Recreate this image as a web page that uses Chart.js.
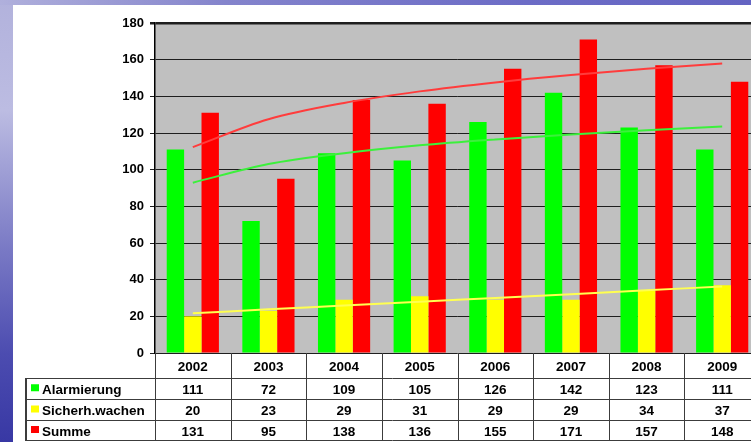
<!DOCTYPE html>
<html>
<head>
<meta charset="utf-8">
<script src="https://cdn.jsdelivr.net/npm/chart.js@4.4.1/dist/chart.umd.min.js"></script>
<style>
  html, body { margin: 0; padding: 0; width: 751px; height: 442px; overflow: hidden; }
  body { background: linear-gradient(180deg, #b2b2dc 0%, #bcbce2 25%, #7c7cc6 55%, #4c4cb0 80%, #3838a4 100%); position: relative; }
  #topband { position: absolute; left: 0; top: 0; width: 751px; height: 5px;
    background: linear-gradient(90deg, #b0b0dc 0%, #8484cc 30%, #6c6cc6 70%, #6464c2 100%); }
  #wrap { position: absolute; left: 13px; top: 5px; width: 747px; height: 437px; background: #fff; }
</style>
</head>
<body>
<div id="topband"></div>
<div id="wrap"><canvas id="c" width="747" height="437"></canvas></div>
<script>
/* Einsätze 2002–2009: Balken + Trendlinien + Datentabelle */
const years = ["2002", "2003", "2004", "2005", "2006", "2007", "2008", "2009"];
const alarmierung = [111, 72, 109, 105, 126, 142, 123, 111];
const sicherhWachen = [20, 23, 29, 31, 29, 29, 34, 37];
const summe = [131, 95, 138, 136, 155, 171, 157, 148];
const trendAlarm = [92.9, 103.1, 109.0, 113.3, 116.5, 119.2, 121.5, 123.5];
const trendSicher = [21.7, 23.8, 25.9, 28.0, 30.0, 32.1, 34.2, 36.3];
const trendSumme = [112.3, 127.5, 136.4, 142.7, 147.6, 151.6, 155.0, 157.9];
const seriesNames = ["Alarmierung", "Sicherh.wachen", "Summe"];
const yMin = 0, yMax = 180, yStep = 20;

const GREEN = "#00ff00", YELLOW = "#ffff00", RED = "#ff0000";
const FONT = "'Liberation Sans', Arial, sans-serif";

Chart.defaults.font.family = FONT;
Chart.defaults.font.weight = "bold";
Chart.defaults.font.size = 13;
Chart.defaults.color = "#000";

const plotBg = {
  id: "plotBg",
  beforeDraw(c) {
    const { ctx, chartArea: a } = c;
    ctx.save();
    ctx.fillStyle = "#c0c0c0";
    ctx.fillRect(a.left, a.top, a.right - a.left, a.bottom - a.top);
    ctx.restore();
  },
};

const dataTable = {
  id: "dataTable",
  afterDraw(c) {
    const { ctx, chartArea: a, scales: { x } } = c;
    const w = (a.right - a.left) / years.length;
    const y0 = a.bottom, y1 = y0 + 24.5;
    const rowY = [y1, y1 + 21.5, y1 + 42.5, y1 + 62.5];
    const left = 12;
    const line = (x1, ya, x2, yb) => { ctx.beginPath(); ctx.moveTo(x1, ya); ctx.lineTo(x2, yb); ctx.stroke(); };
    ctx.save();
    ctx.strokeStyle = "#3c3c3c";
    ctx.lineWidth = 1;
    rowY.forEach((yy) => line(left, Math.round(yy) + 0.5, a.right, Math.round(yy) + 0.5));
    for (let i = 0; i <= years.length; i++) {
      const xx = Math.round(a.left + i * w) + 0.5;
      line(xx, y0, xx, Math.round(rowY[3]) + 0.5);
    }
    ctx.lineWidth = 2;
    line(left + 1, Math.round(y1), left + 1, Math.round(rowY[3]) + 1);

    ctx.fillStyle = "#000";
    ctx.font = "bold 13.5px " + FONT;
    ctx.textAlign = "center";
    ctx.textBaseline = "middle";
    years.forEach((yr, i) => ctx.fillText(yr, x.getPixelForValue(i), (y0 + y1) / 2 + 2));

    const rows = [alarmierung, sicherhWachen, summe];
    const colors = [GREEN, YELLOW, RED];
    rows.forEach((vals, r) => {
      const cy = (rowY[r] + rowY[r + 1]) / 2 + 2;
      vals.forEach((v, i) => ctx.fillText(String(v), x.getPixelForValue(i), cy));
      ctx.fillStyle = colors[r];
      ctx.fillRect(18, cy - 6, 8, 7);
      ctx.fillStyle = "#000";
      ctx.textAlign = "left";
      ctx.fillText(seriesNames[r], 29, cy);
      ctx.textAlign = "center";
    });
    ctx.restore();
  },
};

const barDs = (label, data, color) => ({
  type: "bar", label, data, backgroundColor: color, borderWidth: 0,
  categoryPercentage: 0.69, barPercentage: 1.0, order: 2,
});
const trendDs = (data, color) => ({
  type: "line", data, borderColor: color, borderWidth: 2, pointRadius: 0,
  cubicInterpolationMode: "monotone", fill: false, order: 1,
});

new Chart(document.getElementById("c"), {
  type: "bar",
  data: {
    labels: years,
    datasets: [
      barDs(seriesNames[0], alarmierung, GREEN),
      barDs(seriesNames[1], sicherhWachen, YELLOW),
      barDs(seriesNames[2], summe, RED),
      trendDs(trendAlarm, "#3cf03c"),
      trendDs(trendSicher, "#ffff50"),
      trendDs(trendSumme, "#ff3c3c"),
    ],
  },
  options: {
    responsive: false,
    animation: false,
    layout: { padding: { left: 0, right: 0, top: 18, bottom: 89 } },
    plugins: { legend: { display: false }, tooltip: { enabled: false } },
    scales: {
      x: { display: false, offset: true },
      y: {
        min: yMin, max: yMax,
        ticks: { stepSize: yStep, padding: 6, color: "#000", font: { size: 13, weight: "bold" } },
        grid: {
          color: "#1e1e1e",
          lineWidth: (ctx) => (ctx.tick && ctx.tick.value === yMax ? 2.5 : 1),
          tickLength: 5,
        },
        border: { display: true, color: "#000", width: 1.5 },
        afterFit: (s) => { s.width = 142; },
      },
    },
  },
  plugins: [plotBg, dataTable],
});
</script>
</body>
</html>
